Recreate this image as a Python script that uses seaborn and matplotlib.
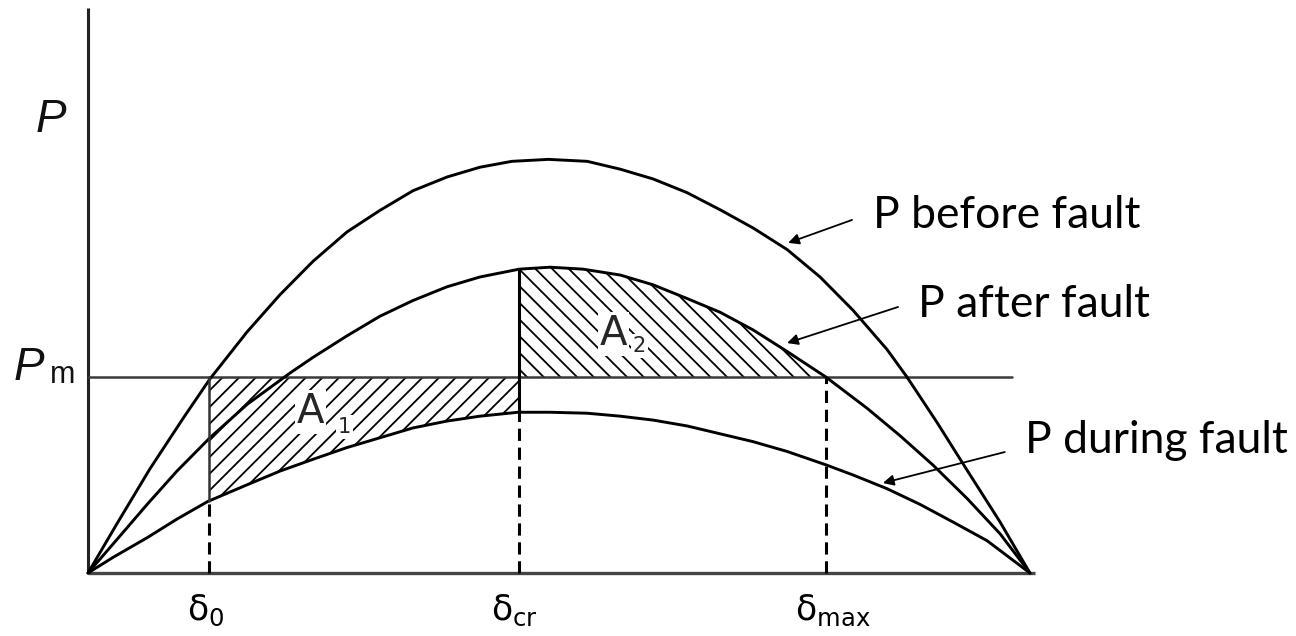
import numpy as np
import matplotlib
matplotlib.use("Agg")
import matplotlib.pyplot as plt
import seaborn as sns

# ---- data (delta in degrees, P in per-unit, Pm = 1) ----
delta_before = [0, 5.5, 11.8, 18.2, 23.3, 30.4, 36.7, 43.0, 49.5, 55.8, 62.1, 68.6, 74.9,
                81.0, 88.0, 95.4, 101.7, 108.0, 114.5, 121.0, 127.1, 133.6, 139.9, 146.2,
                152.7, 156.5, 162.2, 168.1, 174.3, 180]
p_before = [0, 0.25, 0.53, 0.79, 0.99, 1.23, 1.42, 1.59, 1.74, 1.85, 1.95, 2.02, 2.07,
            2.10, 2.11, 2.10, 2.06, 2.01, 1.94, 1.85, 1.76, 1.65, 1.51, 1.34,
            1.14, 1.00, 0.77, 0.52, 0.26, 0]

delta_after = [0, 5.5, 11.3, 17.0, 23.3, 30.4, 38.6, 43.0, 49.5, 55.8, 62.1, 68.6, 74.9,
               82.4, 88.3, 94.6, 101.7, 108.0, 114.5, 120.8, 127.1, 133.6, 141.0, 148.9,
               155.2, 161.5, 168.0, 174.3, 180]
p_after = [0, 0.17, 0.35, 0.52, 0.69, 0.86, 1.02, 1.10, 1.21, 1.31, 1.39, 1.46, 1.51,
           1.55, 1.56, 1.55, 1.52, 1.47, 1.40, 1.33, 1.24, 1.13, 1.00, 0.84,
           0.70, 0.55, 0.38, 0.20, 0]

delta_during = [0, 4.8, 11.3, 17.0, 22.9, 30.4, 36.7, 43.0, 49.5, 55.8, 62.1, 68.6, 74.9,
                82.2, 88.3, 95.4, 101.7, 108.0, 114.5, 120.8, 127.1, 133.6, 141.2, 146.2,
                152.7, 159.0, 165.3, 171.8, 180]
p_during = [0, 0.08, 0.18, 0.275, 0.365, 0.45, 0.52, 0.58, 0.64, 0.69, 0.74, 0.775, 0.80,
            0.82, 0.82, 0.815, 0.80, 0.78, 0.75, 0.71, 0.67, 0.62, 0.55, 0.50,
            0.43, 0.35, 0.26, 0.165, 0]

p_m = 1.0
delta_0 = 23.1
delta_cr = 82.4
delta_max = 141.0
pm_line_end = 176.6
x_axis_end = 181.0
y_axis_top = 2.88

curve_labels = ["P before fault", "P after fault", "P during fault"]
delta_labels = [r"$\mathregular{\delta_{0}}$", r"$\mathregular{\delta_{cr}}$",
                r"$\mathregular{\delta_{max}}$"]

# ---- style ----
sns.set_theme(style="white")
plt.rcParams["font.family"] = ["Lato", "DejaVu Sans"]
plt.rcParams["hatch.linewidth"] = 1.3

fig = plt.figure(figsize=(12.96, 6.36), dpi=100)
ax = fig.add_axes([0, 0, 1, 1])
ax.set_xlim(-16.82, 230.85)
ax.set_ylim(-0.3214, 2.923)
ax.axis("off")

db = np.array(delta_before); pb = np.array(p_before)
da = np.array(delta_after); pa = np.array(p_after)
dd = np.array(delta_during); pd_ = np.array(p_during)

# axes lines
ax.plot([0, 0], [0, y_axis_top], color="#222222", lw=2.2, solid_capstyle="butt")
ax.plot([0, x_axis_end], [0, 0], color="#444444", lw=2.4, solid_capstyle="butt")

# hatched areas
m1 = (dd > delta_0) & (dd < delta_cr)
x1 = np.concatenate([[delta_0], dd[m1], [delta_cr]])
y1 = np.interp(x1, dd, pd_)
ax.fill_between(x1, y1, p_m, facecolor="none", edgecolor="black", hatch="//", linewidth=0)

m2 = (da > delta_cr) & (da < delta_max)
x2 = np.concatenate([[delta_cr], da[m2], [delta_max]])
y2 = np.interp(x2, da, pa)
ax.fill_between(x2, p_m, y2, facecolor="none", edgecolor="black", hatch="\\\\", linewidth=0)

# Pm line
ax.plot([0, pm_line_end], [p_m, p_m], color="#3a3a3a", lw=1.8)

# curves
for d, p in [(db, pb), (da, pa), (dd, pd_)]:
    sns.lineplot(x=d, y=p, ax=ax, color="black", lw=2.1, sort=False, legend=False)

# vertical lines
pd0 = np.interp(delta_0, dd, pd_)
pdcr = np.interp(delta_cr, dd, pd_)
pacr = np.interp(delta_cr, da, pa)
ax.plot([delta_0, delta_0], [pd0, p_m], color="#333333", lw=1.8)
ax.plot([delta_cr, delta_cr], [pdcr, pacr], color="black", lw=2.2)
dash = dict(color="black", lw=2.2, linestyle=(0, (4, 2.2)))
ax.plot([delta_0, delta_0], [0, pd0], **dash)
ax.plot([delta_cr, delta_cr], [0, pdcr], **dash)
ax.plot([delta_max, delta_max], [0, p_m], **dash)

# axis labels
ax.text(-10.1, 2.25, "P", fontsize=33, style="italic", family=["Liberation Sans"],
        ha="left", va="baseline", color="#111111")
ax.text(-14.3, 0.985, "P", fontsize=33, style="italic", family=["Liberation Sans"],
        ha="left", va="baseline", color="#111111")
ax.text(-7.3, 0.969, "m", fontsize=22, family=["Liberation Sans"],
        ha="left", va="baseline", color="#111111")

# delta tick labels
for xpos, lab in zip([18.9, 77.0, 135.1], delta_labels):
    ax.text(xpos, -0.24, lab, fontsize=25, family=["DejaVu Sans"],
            ha="left", va="baseline", color="black")

# area labels
bb = dict(facecolor="white", edgecolor="none", pad=1.5)
ax.text(39.9, 0.765, "A", fontsize=29, family=["DejaVu Sans"], ha="left",
        va="baseline", bbox=bb)
ax.text(47.8, 0.714, "1", fontsize=15, family=["DejaVu Sans"], ha="left",
        va="baseline", bbox=bb)
ax.text(97.8, 1.163, "A", fontsize=29, family=["DejaVu Sans"], ha="left",
        va="baseline", bbox=bb)
ax.text(104.1, 1.128, "2", fontsize=15, family=["DejaVu Sans"], ha="left",
        va="baseline", bbox=bb)

# curve labels with arrows
label_pos = [(150.0, 1.760), (158.6, 1.306), (179.1, 0.612)]
arrow_tail = [(146.0, 1.801), (154.8, 1.357), (175.2, 0.617)]
arrow_head = [(133.8, 1.684), (133.6, 1.173), (151.9, 0.459)]
for lab, pos, tail, head in zip(curve_labels, label_pos, arrow_tail, arrow_head):
    ax.text(pos[0], pos[1], lab, fontsize=32, ha="left", va="baseline", color="black")
    ax.annotate("", xy=head, xytext=tail,
                arrowprops=dict(arrowstyle="-|>", color="black", lw=1.3,
                                mutation_scale=16, shrinkA=0, shrinkB=0))

fig.savefig("out.png", dpi=100, facecolor="white")
